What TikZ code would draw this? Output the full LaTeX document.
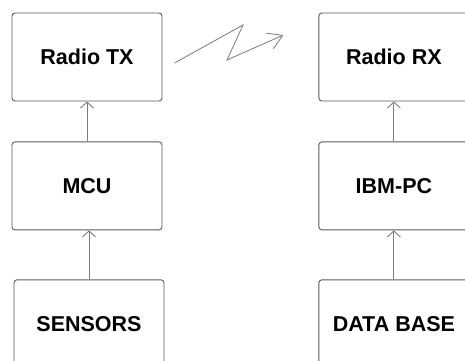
\documentclass[tikz,border=0pt]{standalone}
\usepackage{fontspec}
\setmainfont{Liberation Sans}
\usetikzlibrary{arrows.meta,positioning,calc}
\definecolor{boxgray}{HTML}{5A5A5A}
\definecolor{linegray}{HTML}{7A7A7A}
\tikzset{
  blk/.style={draw=boxgray, rounded corners=3pt, line width=0.9pt, minimum width=150pt, minimum height=88pt, align=center, font=\fontsize{21.5}{25}\selectfont\bfseries},
  arr/.style={draw=linegray, line width=0.9pt, -{Straight Barb[length=6pt,width=13pt]}},
  radio/.style={draw=linegray, line width=0.8pt, -{Straight Barb[length=14pt,width=17pt]}}
}

\begin{document}
\begin{tikzpicture}[node distance=40pt and 156pt]
  \useasboundingbox (0,0) rectangle (465pt,-360pt);
  \clip (0,0) rectangle (465pt,-360pt);

  % transmitter side
  \node[blk] (tx) at (87pt,-57pt) {Radio TX};
  \node[blk, below=40pt of tx] (mcu) {MCU};
  \node[blk, below=49pt of mcu, xshift=2pt] (sens) {SENSORS};

  % receiver side
  \node[blk, right=156pt of tx] (rx) {Radio RX};
  \node[blk, below=40pt of rx] (pc) {IBM-PC};
  \node[blk, below=49pt of pc] (db) {DATA BASE};

  \draw[arr] (sens) -- (sens|-mcu.south);
  \draw[arr] (mcu) -- (tx);
  \draw[arr] (db) -- (pc);
  \draw[arr] (pc) -- (rx);

  % radio link
  \coordinate (zzs) at ($(tx.east)+(12pt,-6pt)$);
  \coordinate (zzt) at ($(rx.west)+(-35pt,22pt)$);
  \draw[radio] (zzs) -- (243pt,-25pt) -- (227pt,-60pt) -- (zzt);
\end{tikzpicture}
\end{document}
